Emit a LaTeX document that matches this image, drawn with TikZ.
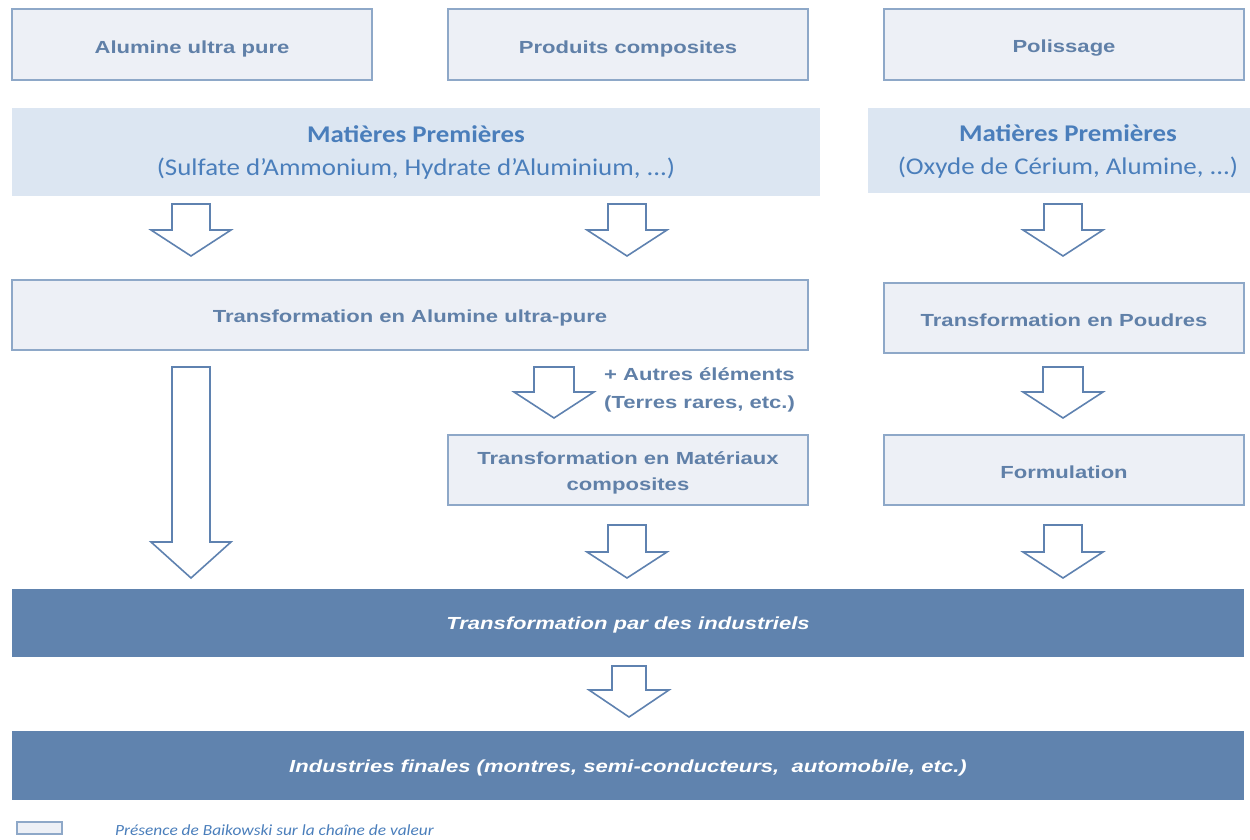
\documentclass[tikz,border=0pt]{standalone}
\usepackage{fontspec}
\setmainfont{Liberation Sans}
\newfontfamily\boxfont[FakeStretch=1.26]{Liberation Sans}
\newfontfamily\calfont[FakeStretch=1.12]{Carlito}
\newfontfamily\legfont[FakeStretch=1.12]{Carlito}
\definecolor{boxfill}{HTML}{EDF0F6}
\definecolor{boxborder}{HTML}{8EA8C8}
\definecolor{boxtext}{HTML}{6080A8}
\definecolor{mpfill}{HTML}{DCE6F2}
\definecolor{mptext}{HTML}{4A7EBB}
\definecolor{darkfill}{HTML}{6083AE}
\definecolor{arrowcol}{HTML}{5F82B0}
\tikzset{
  lightbox/.style={draw=boxborder, line width=1.3pt, fill=boxfill, inner sep=0pt},
  boxlbl/.style={text=boxtext, font=\boxfont\bfseries\fontsize{17.5}{25.5}\selectfont,
    align=center, inner sep=0pt, yshift=-3pt},
  mpbox/.style={fill=mpfill, inner sep=0pt},
  mplbl/.style={text=mptext, font=\calfont\fontsize{24}{33}\selectfont,
    align=center, inner sep=0pt},
  darkbar/.style={fill=darkfill, minimum width=1232pt, inner sep=0pt},
  darklbl/.style={text=white, font=\boxfont\bfseries\itshape\fontsize{17.5}{25}\selectfont,
    inner sep=0pt, yshift=-2pt},
  blockarr/.style={draw=arrowcol, line width=1.6pt, fill=white, line join=miter},
  note/.style={text=boxtext, font=\boxfont\bfseries\fontsize{17.5}{27.5}\selectfont, align=left, inner sep=0pt},
  legendtext/.style={text=mptext, font=\legfont\itshape\fontsize{15.5}{20}\selectfont, inner sep=0pt}
}
% block arrow: center x, top y, head y, tip y, shaft half width
\newcommand\blockarrow[5]{%
  \draw[blockarr] (#1-#5,#2) -- (#1+#5,#2) -- (#1+#5,#3) -- (#1+40,#3) -- (#1,#4)
    -- (#1-40,#3) -- (#1-#5,#3) -- cycle;}
\begin{document}
\begin{tikzpicture}[x=1pt,y=-1pt]
\useasboundingbox (0,0) rectangle (1250,840);
% top row
\node[lightbox, minimum width=360pt, minimum height=71pt,
  label={[boxlbl, yshift=-1pt]center:{Alumine ultra pure}}] (alu) at (192,44.5) {};
\node[lightbox, minimum width=360pt, minimum height=71pt,
  label={[boxlbl, yshift=-1pt]center:{Produits composites}}] (comp) at (628,44.5) {};
\node[lightbox, minimum width=360pt, minimum height=71pt,
  label={[boxlbl, yshift=-1pt]center:{Polissage}}] (pol) at (1064,44.5) {};
% raw materials
\node[mpbox, minimum width=808pt, minimum height=88pt,
  label={[mplbl]center:{{\bfseries Matières Premières}\\(Sulfate d’Ammonium, Hydrate d’Aluminium, ...)}}] (mp1) at (416,152) {};
\node[mpbox, minimum width=382pt, minimum height=85pt,
  label={[mplbl, xshift=9pt, yshift=-1pt]center:{{\bfseries Matières Premières}\\(Oxyde de Cérium, Alumine, ...)}}] (mp2) at (1059,150.5) {};
% transformations
\node[lightbox, minimum width=796pt, minimum height=70pt,
  label={[boxlbl]center:{Transformation en Alumine ultra-pure}}] (t1) at (410,315) {};
\node[lightbox, minimum width=360pt, minimum height=70pt,
  label={[boxlbl, yshift=1pt]center:{Transformation en Poudres}}] (t2) at (1064,318) {};
\node[lightbox, minimum width=360pt, minimum height=70pt,
  label={[boxlbl]center:{Transformation en Matériaux\\composites}}] (t3) at (628,470) {};
\node[lightbox, minimum width=360pt, minimum height=70pt,
  label={[boxlbl, yshift=1pt]center:{Formulation}}] (t4) at (1064,470) {};
\node[note, anchor=west] (autres) at (604,390) {+ Autres éléments\\(Terres rares, etc.)};
% dark bars
\node[darkbar, minimum height=68pt,
  label={[darklbl]center:{Transformation par des industriels}}] (ind) at (628,623) {};
\node[darkbar, minimum height=69pt,
  label={[darklbl]center:{Industries finales (montres, semi-conducteurs,\ \ automobile, etc.)}}] (fin) at (628,765.5) {};
% arrows
\blockarrow{191}{204}{230}{256}{19}
\blockarrow{627}{204}{230}{256}{19}
\blockarrow{1063}{204}{230}{256}{19}
\blockarrow{191}{367}{542}{578}{19}
\blockarrow{554}{367}{392}{418}{20}
\blockarrow{1063}{367}{392}{418}{20}
\blockarrow{627}{525}{552}{578}{19}
\blockarrow{1063}{525}{552}{578}{19}
\blockarrow{629}{666}{690}{717}{17}
% legend
\node[draw=boxborder, line width=1.3pt, fill=boxfill, minimum width=45pt, minimum height=12pt, inner sep=0pt] (leg) at (39.5,828) {};
\node[legendtext, anchor=west] (legt) at (115,830) {Présence de Baikowski sur la chaîne de valeur};
\end{tikzpicture}
\end{document}
